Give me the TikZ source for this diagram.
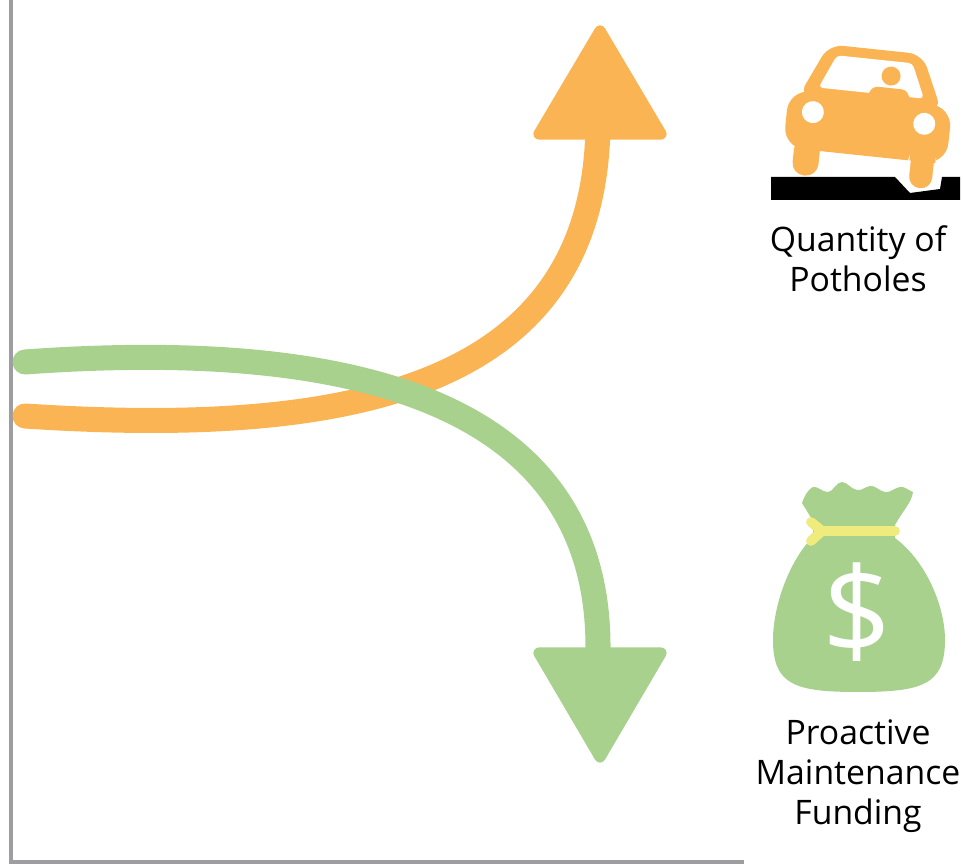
\documentclass[tikz,border=0pt]{standalone}
\usepackage{fontspec}
\setmainfont{Open Sans}
\definecolor{potorange}{RGB}{251,180,84}
\definecolor{fundgreen}{RGB}{168,209,141}
\definecolor{tieyellow}{RGB}{239,235,124}
\definecolor{axisgray}{RGB}{158,158,162}
\tikzset{
  trend/.style={line width=17.8pt,line cap=round},
  headtip/.style={line width=8pt,line join=round},
  caption/.style={font=\fontsize{24}{28.5}\selectfont,align=center,inner sep=0pt}
}
\begin{document}
\begin{tikzpicture}[x=0.025cm,y=-0.025cm]
          \useasboundingbox (0,0) rectangle (963,865);
          \draw[axisgray,line width=3.2pt] (11,0) |- (744,862);

          \coordinate (ostart) at (25,416);
          \coordinate (oend) at (598,120);
          \coordinate (gstart) at (25,362);
          \coordinate (gend) at (598,650);

          \draw[trend,potorange] (ostart) .. controls (360,438) and (598,385) .. (oend);
          \draw[trend,fundgreen] (gstart) .. controls (330,340) and (600,390) .. (gend);

          \filldraw[headtip,potorange] (600,31) -- (661,134) -- (539,134) -- cycle;
          \filldraw[headtip,fundgreen] (539,653) -- (661,653) -- (600,757) -- cycle;

          % car in a pothole
          \fill (771,177) -- (895,177) -- (910,193) -- (940,189) -- (942,177)
                -- (960,177) -- (960,200) -- (771,200) -- cycle;
          \begin{scope}[shift={(869,114)},rotate=-6]
            \fill[potorange,rounded corners=10] (-47,-65) -- (47,-65) -- (72,-10) -- (-72,-10) -- cycle;
            \fill[potorange,rounded corners=15] (-82,-16) rectangle (82,42);
            \fill[white,rounded corners=3] (-38,-55) -- (38,-55) -- (53,-21) -- (-53,-21) -- cycle;
            \fill[potorange,rounded corners=6] (-2,-28) rectangle (38,-14);
            \fill[potorange] (18,-40) circle (9.5);
            \fill[potorange,rounded corners=9] (-71,30) rectangle (-45,68);
            \filldraw[potorange,draw=white,line width=2pt,rounded corners=9] (45,30) rectangle (71,70);
            \fill[potorange] (45,28) rectangle (71,42);
            \fill[white] (-56,4) circle (11);
            \fill[white] (56,4) circle (11);
          \end{scope}
          \node[caption] (potholes) at (858,259) {Quantity of\\Potholes};

          % money bag
          \fill[fundgreen] (812,538) .. controls (790,560) and (773,605) .. (773,640)
                .. controls (773,685) and (795,692) .. (858,692)
                .. controls (922,692) and (945,685) .. (945,640)
                .. controls (945,605) and (925,560) .. (895,538)
                -- (895,525) .. controls (902,512) and (912,502) .. (913,492)
                .. controls (908,490) and (904,486) .. (900,487)
                .. controls (894,488) and (890,493) .. (885,492)
                .. controls (879,491) and (875,485) .. (870,486)
                .. controls (864,487) and (862,491) .. (857,490)
                .. controls (851,489) and (847,482) .. (842,482)
                .. controls (836,482) and (833,492) .. (828,492)
                .. controls (822,492) and (818,486) .. (813,487)
                .. controls (808,489) and (804,497) .. (802,503)
                .. controls (806,510) and (812,518) .. (814,525) -- cycle;
          \draw[tieyellow,line width=7pt,line cap=round] (895,531) -- (822,531) -- (811,522)
                (822,531) -- (811,541);
          \node[font=\fontsize{86}{86}\selectfont,text=white,inner sep=0pt] (dollar) at (857,612) {\$};
          \node[caption] (funding) at (858,776) {Proactive\\Maintenance\\Funding};
      \end{tikzpicture}
\end{document}
